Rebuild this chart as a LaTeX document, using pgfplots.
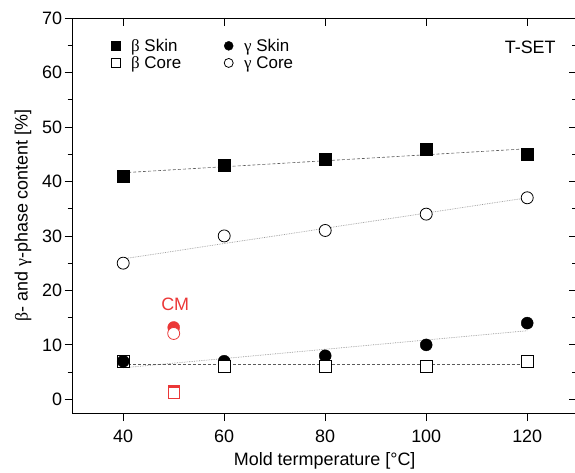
\documentclass[border=0pt]{standalone}
\usepackage{fontspec}
\setmainfont{Liberation Sans}
\newfontfamily\grk{Liberation Serif}
\usepackage{pgfplots}
\pgfplotsset{compat=1.18}
\usetikzlibrary{calc}
\definecolor{cmred}{RGB}{235,55,55}
\definecolor{fitA}{RGB}{90,90,90}
\definecolor{fitB}{RGB}{150,150,150}
\begin{document}
\begin{tikzpicture}
\pgfplotsset{base/.style={width=504bp,height=395bp,scale only axis,
  xmin=30,xmax=129.8,ymin=-2.5,ymax=70,
  xtick={40,60,80,100,120}, ytick={0,10,...,70}, minor ytick={5,15,...,65},
  axis line style={line width=0.9bp},
  every tick/.style={black,line width=0.8bp},
  major tick length=8bp, minor tick length=5bp,
  /pgf/number format/assume math mode=true,
  ticklabel style={font=\fontsize{18}{21}\selectfont},
  label style={font=\fontsize{18}{21}\selectfont},
  clip=false}}
\begin{axis}[base, tick align=outside, xtick pos=bottom, ytick pos=left,
  xlabel={Mold termperature [°C]},
  ylabel={{\grk β}- and {\grk γ}-phase content [\%]},
  xlabel style={yshift=-3bp},
  ylabel style={yshift=4bp},
  xticklabel style={yshift=-5bp},
  yticklabel style={xshift=1bp},
  legend columns=2,
  legend style={draw=none,fill=none,at={(0.07,0.955)},anchor=north west,
    font=\fontsize{17}{18}\selectfont,row sep=1.5bp,
    nodes={inner sep=1bp},
    /tikz/every odd column/.append style={column sep=10bp},
    /tikz/every even column/.append style={column sep=42bp}},
  legend image post style={mark size=4.5bp},
  legend cell align=left]
\coordinate (sw) at (rel axis cs:0,0);
% fit lines
\addplot[forget plot, fitA, line width=0.6bp, densely dashed] coordinates {(40,41.6) (120,46.0)};
\addplot[forget plot, fitB, line width=0.7bp, densely dotted] coordinates {(40,25.8) (120,37.0)};
\addplot[forget plot, fitB, line width=0.7bp, densely dotted] coordinates {(40,5.8) (120,12.6)};
\addplot[forget plot, fitA, line width=0.6bp, densely dashed] coordinates {(40,6.4) (120,6.4)};
% data
\addplot[only marks, mark=square*, mark size=6bp, black] coordinates {(40,41) (60,43) (80,44) (100,46) (120,45)};
\addlegendentry{{\grk β} Skin}
\addplot[only marks, mark=*, mark size=6bp, black] coordinates {(40,7) (60,7) (80,8) (100,10) (120,14)};
\addlegendentry{{\grk γ} Skin}
\addplot[only marks, mark=square*, mark size=6bp, black, line width=0.8bp, mark options={fill=white, draw=black}] coordinates {(40,7) (60,6) (80,6) (100,6) (120,7)};
\addlegendentry{{\grk β} Core}
\addplot[only marks, mark=*, mark size=6bp, black, line width=0.8bp, mark options={fill=white, draw=black}] coordinates {(40,25) (60,30) (80,31) (100,34) (120,37)};
\addlegendentry{{\grk γ} Core}
\addplot[forget plot, only marks, mark=*, mark size=6bp, black] coordinates {(40,7)};
% CM points
\addplot[forget plot, only marks, mark=*, mark size=6bp, cmred] coordinates {(50,13.2)};
\addplot[forget plot, only marks, mark=*, mark size=6bp, cmred, line width=0.8bp, mark options={fill=white, draw=cmred}] coordinates {(50,12.1)};
\addplot[forget plot, only marks, mark=square*, mark size=5.5bp, cmred] coordinates {(50,1.6)};
\addplot[forget plot, only marks, mark=square*, mark size=5.5bp, cmred, line width=0.8bp, mark options={fill=white, draw=cmred}] coordinates {(50,1.1)};
\node[text=cmred, font=\fontsize{18}{21}\selectfont] at (axis cs:50.3,17.4) {CM};
\node[font=\fontsize{18}{21}\selectfont] at (axis cs:120.6,64.7) {T-SET};
\end{axis}
\begin{axis}[base, tick align=inside, xtick pos=top, ytick pos=right,
  xticklabels={}, yticklabels={}]
\end{axis}
\pgfresetboundingbox
\path[use as bounding box] ($(sw)+(-72.7bp,-60bp)$) rectangle ++(575bp,473bp);
\end{tikzpicture}
\end{document}
